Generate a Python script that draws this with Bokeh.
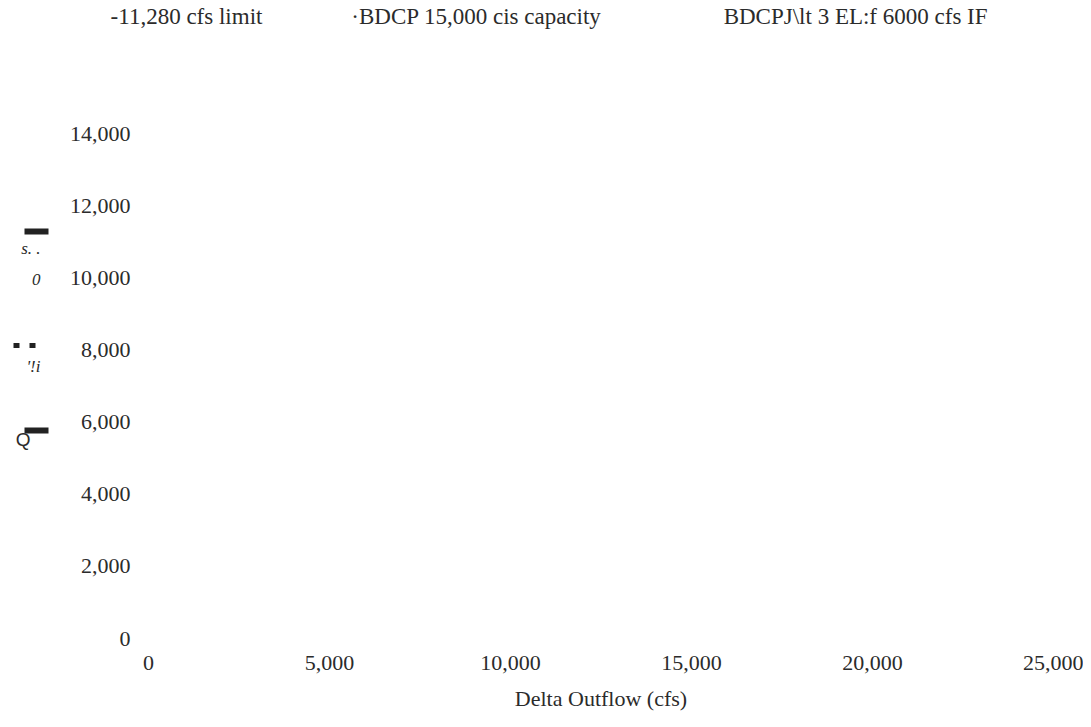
from bokeh.plotting import figure
from bokeh.models import (FixedTicker, NumeralTickFormatter, LinearAxis, Range1d,
                          CustomJSTickFormatter)
from bokeh.embed import file_html
from bokeh.resources import INLINE

# ---- data ----
x_ticks = [0, 5000, 10000, 15000, 20000, 25000]
y_ticks = [0, 2000, 4000, 6000, 8000, 10000, 12000, 14000]
x_label = "Delta Outflow (cfs)"
legend_labels = ["-11,280 cfs limit", "\u00b7BDCP 15,000 cis capacity", "BDCPJ\\lt  3 EL:f 6000 cfs IF"]
y_label_fragments = ["s. .", "0", "'!i"]
y_label_fragment_q = "Q"

W, H = 1083, 719
FL, FR, FT, FB = 148, 1053, 132, 638  # frame edges in canvas px
XMAX, YMAX = x_ticks[-1], y_ticks[-1]

p = figure(width=W, height=H, output_backend="svg", toolbar_location=None,
           x_range=Range1d(0, XMAX), y_range=Range1d(0, YMAX),
           min_border_left=FL, min_border_right=W - FR,
           min_border_top=FT, min_border_bottom=H - FB)
p.outline_line_color = None
p.grid.visible = False
p.background_fill_color = "white"
p.border_fill_color = "white"

TXT = "#2b2b2b"
INK = "#222222"


def plain(ax, size="22px", font="Liberation Serif"):
    ax.axis_line_color = None
    ax.major_tick_line_color = None
    ax.minor_tick_line_color = None
    ax.major_tick_out = 0
    ax.major_tick_in = 0
    ax.minor_tick_out = 0
    ax.minor_tick_in = 0
    ax.major_label_text_font = font
    ax.major_label_text_font_size = size
    ax.major_label_text_color = TXT


for ax in (p.xaxis[0], p.yaxis[0]):
    plain(ax)
    ax.formatter = NumeralTickFormatter(format="0,0")

p.xaxis.ticker = FixedTicker(ticks=x_ticks)
p.yaxis.ticker = FixedTicker(ticks=y_ticks)
p.xaxis.major_label_standoff = 17
p.yaxis.major_label_standoff = 18
p.xaxis.axis_label = x_label
p.xaxis.axis_label_text_font = "Liberation Serif"
p.xaxis.axis_label_text_font_size = "22px"
p.xaxis.axis_label_text_font_style = "normal"
p.xaxis.axis_label_text_color = TXT
p.xaxis.axis_label_standoff = 13


def dx(px):
    """picture x pixel -> data x"""
    return int(round((px - FL) * XMAX / (FR - FL)))


def dy(py):
    """picture y pixel -> data y"""
    return int(round((FB - py) * YMAX / (FB - FT)))


JS = "const s = lab[String(tick)]; return (s === undefined) ? '' : s;"

# legend-like texts across the top (axis above, labels at given centres)
leg_pos = [dx(186), dx(476), dx(858)]
top = LinearAxis(ticker=FixedTicker(ticks=leg_pos),
                 formatter=CustomJSTickFormatter(
                     args=dict(lab={str(k): t for k, t in zip(leg_pos, legend_labels)}), code=JS))
plain(top, "23px")
top.major_label_standoff = 105
p.add_layout(top, "above")

# garbled y-axis title: bars (minor ticks) + fragment texts (major labels)
frag_pos = [dy(247), dy(278), dy(365)]
bar_pos = [dy(230), dy(430)]
axb = LinearAxis(ticker=FixedTicker(ticks=frag_pos, minor_ticks=bar_pos),
                 formatter=CustomJSTickFormatter(
                     args=dict(lab={str(k): t for k, t in zip(frag_pos, y_label_fragments)}), code=JS))
plain(axb, "17px")
axb.major_label_text_font_style = "italic"
axb.minor_tick_line_color = INK
axb.minor_tick_line_width = 6
axb.minor_tick_out = 42
axb.minor_tick_in = -18
axb.major_label_standoff = -16
p.add_layout(axb, "left")

sq_pos = [dy(344)]
q_pos = [dy(439)]
axc = LinearAxis(ticker=FixedTicker(ticks=q_pos, minor_ticks=sq_pos),
                 formatter=CustomJSTickFormatter(
                     args=dict(lab={str(q_pos[0]): y_label_fragment_q}), code=JS))
plain(axc, "19px", "Liberation Sans")
axc.minor_tick_line_color = INK
axc.minor_tick_line_width = 5
axc.minor_tick_line_dash = "6 10"
axc.minor_tick_out = 5
axc.minor_tick_in = 17
axc.major_label_standoff = -17
p.add_layout(axc, "left")

open("out.html", "w").write(file_html(p, INLINE))
